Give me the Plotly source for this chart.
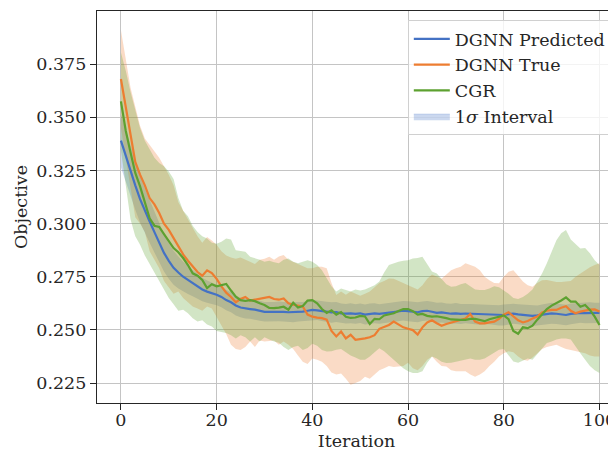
import plotly.graph_objects as go

iterations = list(range(101))

blue_mean = [0.3390, 0.3318, 0.3248, 0.3180, 0.3115, 0.3060, 0.3010, 0.2960, 0.2910, 0.2862,
             0.2825, 0.2792, 0.2770, 0.2750, 0.2735, 0.2720, 0.2705, 0.2690, 0.2680, 0.2673,
             0.2665, 0.2655, 0.2640, 0.2630, 0.2615, 0.2605, 0.2600, 0.2598, 0.2595, 0.2590,
             0.2585, 0.2585, 0.2585, 0.2587, 0.2585, 0.2583, 0.2583, 0.2585, 0.2586, 0.2590,
             0.2594, 0.2592, 0.2588, 0.2585, 0.2582, 0.2584, 0.2578, 0.2576, 0.2578, 0.2575,
             0.2578, 0.2572, 0.2576, 0.2578, 0.2575, 0.2578, 0.2582, 0.2585, 0.2588, 0.2590,
             0.2588, 0.2586, 0.2583, 0.2588, 0.2590, 0.2585, 0.2580, 0.2582, 0.2578, 0.2576,
             0.2578, 0.2575, 0.2577, 0.2576, 0.2574, 0.2572, 0.2574, 0.2572, 0.2570, 0.2568,
             0.2570, 0.2574, 0.2576, 0.2573, 0.2570, 0.2568, 0.2566, 0.2568, 0.2572, 0.2575,
             0.2578, 0.2576, 0.2573, 0.2570, 0.2575, 0.2578, 0.2580, 0.2579, 0.2581, 0.2580,
             0.2580]

blue_std = [0.0125, 0.0122, 0.0118, 0.0115, 0.0110, 0.0105, 0.0100, 0.0096, 0.0092, 0.0088,
            0.0084, 0.0080, 0.0075, 0.0070, 0.0066, 0.0062, 0.0058, 0.0055, 0.0052, 0.0050,
            0.0049, 0.0048, 0.0048, 0.0047, 0.0047, 0.0046, 0.0047, 0.0046, 0.0046, 0.0047,
            0.0046, 0.0045, 0.0046, 0.0047, 0.0046, 0.0046, 0.0047, 0.0046, 0.0045, 0.0046,
            0.0047, 0.0046, 0.0046, 0.0047, 0.0048, 0.0047, 0.0046, 0.0046, 0.0047, 0.0046,
            0.0046, 0.0047, 0.0048, 0.0047, 0.0046, 0.0046, 0.0047, 0.0048, 0.0047, 0.0046,
            0.0047, 0.0048, 0.0047, 0.0046, 0.0046, 0.0047, 0.0048, 0.0047, 0.0046, 0.0047,
            0.0048, 0.0047, 0.0046, 0.0046, 0.0047, 0.0048, 0.0047, 0.0046, 0.0047, 0.0048,
            0.0049, 0.0048, 0.0047, 0.0047, 0.0048, 0.0049, 0.0048, 0.0047, 0.0047, 0.0048,
            0.0049, 0.0048, 0.0047, 0.0048, 0.0049, 0.0048, 0.0047, 0.0048, 0.0049, 0.0048,
            0.0048]

orange_mean = [0.3680, 0.3550, 0.3410, 0.3290, 0.3230, 0.3180, 0.3120, 0.3090, 0.3050, 0.3000,
               0.2970, 0.2930, 0.2890, 0.2855, 0.2825, 0.2797, 0.2772, 0.2755, 0.2780, 0.2767,
               0.2740, 0.2705, 0.2675, 0.2655, 0.2630, 0.2645, 0.2655, 0.2638, 0.2642, 0.2645,
               0.2648, 0.2655, 0.2645, 0.2642, 0.2648, 0.2625, 0.2618, 0.2614, 0.2610, 0.2572,
               0.2562, 0.2558, 0.2555, 0.2548, 0.2495, 0.2469, 0.2492, 0.2460, 0.2477, 0.2453,
               0.2455, 0.2460, 0.2465, 0.2475, 0.2505, 0.2515, 0.2523, 0.2539, 0.2525, 0.2512,
               0.2505, 0.2499, 0.2478, 0.2512, 0.2535, 0.2545, 0.2531, 0.2519, 0.2528, 0.2535,
               0.2541, 0.2547, 0.2553, 0.2575, 0.2539, 0.2531, 0.2531, 0.2535, 0.2539, 0.2552,
               0.2572, 0.2583, 0.2562, 0.2545, 0.2535, 0.2542, 0.2553, 0.2563, 0.2582, 0.2590,
               0.2594, 0.2594, 0.2604, 0.2611, 0.2590, 0.2578, 0.2586, 0.2592, 0.2595, 0.2596,
               0.2586]

orange_upper = [0.3910, 0.3780, 0.3640, 0.3550, 0.3460, 0.3400, 0.3370, 0.3345, 0.3310, 0.3270,
                0.3230, 0.3180, 0.3100, 0.3060, 0.3020, 0.2980, 0.2940, 0.2910, 0.2937, 0.2920,
                0.2900, 0.2870, 0.2850, 0.2840, 0.2835, 0.2840, 0.2830, 0.2820, 0.2810, 0.2830,
                0.2835, 0.2844, 0.2830, 0.2845, 0.2852, 0.2830, 0.2820, 0.2810, 0.2800, 0.2790,
                0.2790, 0.2797, 0.2797, 0.2790, 0.2720, 0.2664, 0.2680, 0.2665, 0.2680, 0.2670,
                0.2660, 0.2670, 0.2680, 0.2700, 0.2720, 0.2730, 0.2742, 0.2740, 0.2730, 0.2720,
                0.2710, 0.2700, 0.2690, 0.2710, 0.2740, 0.2760, 0.2750, 0.2740, 0.2760, 0.2780,
                0.2790, 0.2797, 0.2813, 0.2805, 0.2797, 0.2781, 0.2750, 0.2734, 0.2720, 0.2719,
                0.2750, 0.2773, 0.2781, 0.2755, 0.2727, 0.2710, 0.2703, 0.2720, 0.2734, 0.2735,
                0.2730, 0.2725, 0.2725, 0.2727, 0.2730, 0.2750, 0.2765, 0.2781, 0.2795, 0.2805,
                0.2813]

orange_lower = [0.3450, 0.3310, 0.3180, 0.3030, 0.3000, 0.2960, 0.2870, 0.2830, 0.2790, 0.2730,
                0.2700, 0.2670, 0.2680, 0.2650, 0.2630, 0.2610, 0.2600, 0.2590, 0.2610, 0.2600,
                0.2560, 0.2520, 0.2480, 0.2430, 0.2410, 0.2405, 0.2420, 0.2445, 0.2420, 0.2450,
                0.2445, 0.2448, 0.2450, 0.2430, 0.2445, 0.2430, 0.2410, 0.2380, 0.2350, 0.2340,
                0.2365, 0.2360, 0.2350, 0.2330, 0.2300, 0.2290, 0.2295, 0.2270, 0.2242, 0.2250,
                0.2260, 0.2280, 0.2270, 0.2290, 0.2310, 0.2320, 0.2330, 0.2325, 0.2328, 0.2330,
                0.2345, 0.2320, 0.2310, 0.2330, 0.2360, 0.2375, 0.2350, 0.2330, 0.2328, 0.2310,
                0.2305, 0.2305, 0.2305, 0.2290, 0.2280, 0.2290, 0.2305, 0.2330, 0.2350, 0.2375,
                0.2390, 0.2400, 0.2395, 0.2375, 0.2360, 0.2355, 0.2370, 0.2390, 0.2410, 0.2420,
                0.2425, 0.2430, 0.2420, 0.2410, 0.2405, 0.2400, 0.2395, 0.2390, 0.2380, 0.2375,
                0.2375]

green_mean = [0.3575, 0.3438, 0.3335, 0.3238, 0.3175, 0.3095, 0.3025, 0.2990, 0.2984, 0.2950,
              0.2915, 0.2885, 0.2865, 0.2838, 0.2805, 0.2766, 0.2755, 0.2735, 0.2697, 0.2715,
              0.2705, 0.2710, 0.2716, 0.2685, 0.2656, 0.2640, 0.2636, 0.2640, 0.2635, 0.2625,
              0.2617, 0.2603, 0.2602, 0.2605, 0.2609, 0.2595, 0.2628, 0.2605, 0.2612, 0.2638,
              0.2640, 0.2625, 0.2598, 0.2580, 0.2592, 0.2572, 0.2584, 0.2562, 0.2556, 0.2558,
              0.2566, 0.2563, 0.2528, 0.2552, 0.2550, 0.2568, 0.2573, 0.2578, 0.2589, 0.2598,
              0.2598, 0.2588, 0.2572, 0.2575, 0.2566, 0.2562, 0.2564, 0.2561, 0.2555, 0.2549,
              0.2547, 0.2547, 0.2547, 0.2552, 0.2552, 0.2547, 0.2541, 0.2550, 0.2556, 0.2562,
              0.2568, 0.2550, 0.2495, 0.2482, 0.2512, 0.2508, 0.2520, 0.2548, 0.2572, 0.2598,
              0.2614, 0.2625, 0.2638, 0.2653, 0.2633, 0.2633, 0.2609, 0.2617, 0.2594, 0.2562,
              0.2523]

green_upper = [0.3805, 0.3720, 0.3620, 0.3530, 0.3450, 0.3390, 0.3350, 0.3310, 0.3285, 0.3270,
               0.3245, 0.3210, 0.3120, 0.3060, 0.3035, 0.2990, 0.2960, 0.2940, 0.2930, 0.2910,
               0.2905, 0.2914, 0.2930, 0.2925, 0.2875, 0.2870, 0.2867, 0.2844, 0.2838, 0.2830,
               0.2820, 0.2825, 0.2818, 0.2813, 0.2830, 0.2836, 0.2820, 0.2813, 0.2820, 0.2828,
               0.2820, 0.2805, 0.2780, 0.2740, 0.2705, 0.2680, 0.2695, 0.2688, 0.2680, 0.2690,
               0.2685, 0.2690, 0.2700, 0.2710, 0.2727, 0.2770, 0.2805, 0.2813, 0.2820, 0.2825,
               0.2828, 0.2836, 0.2838, 0.2844, 0.2810, 0.2775, 0.2765, 0.2740, 0.2715, 0.2703,
               0.2705, 0.2715, 0.2720, 0.2705, 0.2690, 0.2688, 0.2688, 0.2695, 0.2705, 0.2700,
               0.2685, 0.2670, 0.2650, 0.2645, 0.2655, 0.2670, 0.2690, 0.2725, 0.2765, 0.2813,
               0.2870, 0.2922, 0.2955, 0.2970, 0.2925, 0.2905, 0.2883, 0.2885, 0.2860, 0.2828,
               0.2805]

green_lower = [0.3345, 0.3180, 0.3020, 0.2940, 0.2900, 0.2850, 0.2810, 0.2770, 0.2730, 0.2690,
               0.2650, 0.2620, 0.2590, 0.2595, 0.2578, 0.2555, 0.2539, 0.2545, 0.2525, 0.2516,
               0.2495, 0.2490, 0.2485, 0.2475, 0.2460, 0.2475, 0.2465, 0.2445, 0.2465, 0.2445,
               0.2465, 0.2455, 0.2445, 0.2440, 0.2420, 0.2405, 0.2420, 0.2425, 0.2405, 0.2415,
               0.2435, 0.2425, 0.2405, 0.2398, 0.2400, 0.2406, 0.2410, 0.2395, 0.2380, 0.2370,
               0.2360, 0.2360, 0.2375, 0.2395, 0.2414, 0.2400, 0.2380, 0.2360, 0.2340, 0.2320,
               0.2305, 0.2297, 0.2297, 0.2305, 0.2345, 0.2375, 0.2365, 0.2350, 0.2344, 0.2345,
               0.2350, 0.2355, 0.2360, 0.2365, 0.2360, 0.2360, 0.2365, 0.2380, 0.2395, 0.2406,
               0.2410, 0.2380, 0.2351, 0.2345, 0.2355, 0.2365, 0.2360, 0.2385, 0.2410, 0.2438,
               0.2445, 0.2455, 0.2460, 0.2460, 0.2455, 0.2420, 0.2390, 0.2360, 0.2330, 0.2310,
               0.2297]

x_ticks = [0, 20, 40, 60, 80, 100]
y_ticks = [0.225, 0.250, 0.275, 0.300, 0.325, 0.350, 0.375]

BLUE = "#4472C4"
ORANGE = "#ED7D31"
GREEN = "#5DA130"
FONT = "DejaVu Serif"
FS = 17.5


def rgba(hex_color, a):
    h = hex_color.lstrip("#")
    r, g, b = int(h[0:2], 16), int(h[2:4], 16), int(h[4:6], 16)
    return f"rgba({r},{g},{b},{a})"


blue_lower = [m - s for m, s in zip(blue_mean, blue_std)]
blue_upper = [m + s for m, s in zip(blue_mean, blue_std)]

fig = go.Figure()

bands = [
    (blue_lower, blue_upper, BLUE),
    (orange_lower, orange_upper, ORANGE),
    (green_lower, green_upper, GREEN),
]
for lo, hi, col in bands:
    fig.add_trace(go.Scatter(x=iterations, y=lo, mode="lines", line=dict(width=0),
                             showlegend=False, hoverinfo="skip"))
    fig.add_trace(go.Scatter(x=iterations, y=hi, mode="lines", line=dict(width=0),
                             fill="tonexty", fillcolor=rgba(col, 0.28),
                             showlegend=False, hoverinfo="skip"))

lines = [
    ("DGNN Predicted", blue_mean, BLUE, 1),
    ("DGNN True", orange_mean, ORANGE, 2),
    ("CGR", green_mean, GREEN, 3),
]
for name, ys, col, rank in lines:
    fig.add_trace(go.Scatter(x=iterations, y=ys, mode="lines", name=name,
                             line=dict(color=col, width=2.2), legendrank=rank,
                             legendgroup=name))

fig.add_trace(go.Scatter(x=[None], y=[None], mode="lines", name="1<i>σ</i> Interval",
                         fill="toself", fillcolor=rgba(BLUE, 0.28),
                         line=dict(color=rgba(BLUE, 0.28), width=1),
                         legendrank=4, legendgroup="interval"))

axis_common = dict(
    showline=True, linecolor="#262626", linewidth=1.2,
    showgrid=True, gridcolor="#c4c4c4", gridwidth=1.1,
    ticks="outside", ticklen=6, tickwidth=1.2, tickcolor="#262626",
    tickfont=dict(family=FONT, size=FS, color="#262626"),
    zeroline=False, automargin=False, ticklabeloverflow="allow",
)

# page body has an 8px default margin, so the figure is sized/offset to compensate
fig.update_layout(
    width=608, height=443,
    margin=dict(l=89, r=0, t=3, b=48),
    paper_bgcolor="white", plot_bgcolor="white",
    font=dict(family=FONT, size=FS, color="#262626"),
    xaxis=dict(range=[-5, 103.45], tickvals=x_ticks, mirror=True,
               title=dict(text="Iteration", font=dict(family=FONT, size=FS), standoff=15),
               ticklabelstandoff=-5,
               **axis_common),
    yaxis=dict(range=[0.2156, 0.400], tickvals=y_ticks, tickformat=".3f", mirror=False,
               title=dict(text="Objective", font=dict(family=FONT, size=FS), standoff=4),
               ticklabelstandoff=0,
               **axis_common),
    legend=dict(x=0.99, y=0.977, xanchor="right", yanchor="top",
                bgcolor="rgba(255,255,255,0.8)", bordercolor="#d0d0d0", borderwidth=1,
                font=dict(family=FONT, size=FS, color="#262626"),
                tracegroupgap=0, itemwidth=36),
    showlegend=True,
)

fig.write_html("out.html")
